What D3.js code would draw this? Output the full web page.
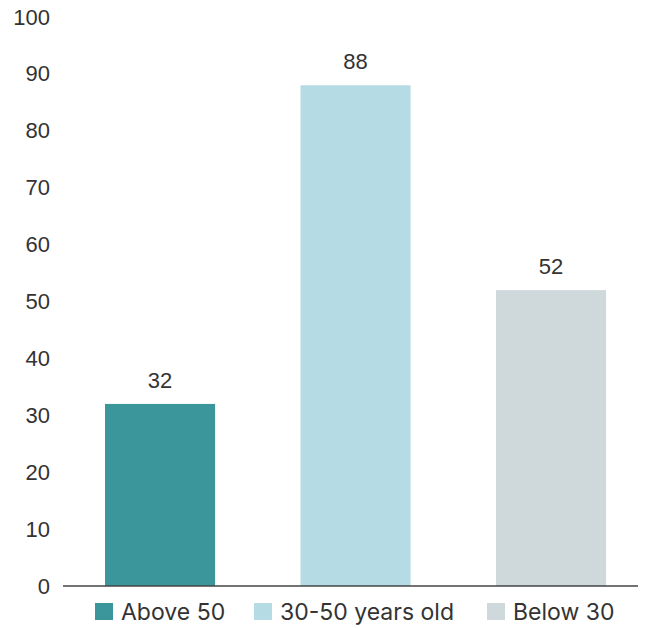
<!DOCTYPE html>
<html>
<head>
<meta charset="utf-8">
<script src="https://cdn.jsdelivr.net/npm/d3@7"></script>
<style>
  html, body { margin: 0; padding: 0; background: #fff; }
  svg { display: block; }
</style>
</head>
<body>
<svg id="chart" width="651" height="628"></svg>
<script>
// Age groups and their values
const categories = ["Above 50", "30-50 years old", "Below 30"];
const values = [32, 88, 52];
const colors = ["#3a969b", "#b5dce4", "#cfd8db"];
const yTicks = [0, 10, 20, 30, 40, 50, 60, 70, 80, 90, 100];

const svg = d3.select("#chart");
const numFont = "'Liberation Sans', Arial, sans-serif";
const textFont = "Inter, 'Noto Sans', sans-serif";
const ink = "#333333";

const y = d3.scaleLinear().domain([0, 100]).range([586, 17]);
const x = d3.scaleBand().domain(categories).range([62.3, 648.8])
  .paddingInner(0.437).paddingOuter(0.2185);

// y-axis tick labels (no axis line)
const yAxis = d3.axisLeft(y).tickValues(yTicks).tickSize(0).tickPadding(0)
  .tickFormat(d3.format("d"));
const gy = svg.append("g").attr("transform", "translate(50,0)").call(yAxis);
gy.select(".domain").remove();
gy.selectAll("text")
  .attr("font-family", numFont).attr("font-size", 22).attr("fill", ink);

// bars
const data = categories.map((c, i) => ({ c, v: values[i], col: colors[i] }));
svg.append("g").selectAll("rect").data(data).join("rect")
  .attr("x", d => x(d.c))
  .attr("width", x.bandwidth())
  .attr("y", d => y(d.v))
  .attr("height", d => y(0) - y(d.v))
  .attr("fill", d => d.col);

// value labels
svg.append("g").selectAll("text").data(data).join("text")
  .attr("x", d => x(d.c) + x.bandwidth() / 2)
  .attr("y", d => y(d.v) - 16)
  .attr("text-anchor", "middle")
  .attr("font-family", numFont).attr("font-size", 22).attr("fill", ink)
  .text(d => d.v);

// baseline
svg.append("line")
  .attr("x1", 63).attr("x2", 638)
  .attr("y1", y(0)).attr("y2", y(0))
  .attr("stroke", "#444").attr("stroke-width", 1.5);

// legend
const legendX = [95, 254, 487];
const lg = svg.append("g").selectAll("g").data(data).join("g")
  .attr("transform", (d, i) => `translate(${legendX[i]},603)`);
lg.append("rect").attr("width", 18).attr("height", 17).attr("fill", d => d.col);
lg.append("text")
  .attr("x", 26).attr("y", 16.5)
  .attr("font-family", textFont).attr("font-size", 23).attr("fill", ink)
  .text(d => d.c);
</script>
</body>
</html>
